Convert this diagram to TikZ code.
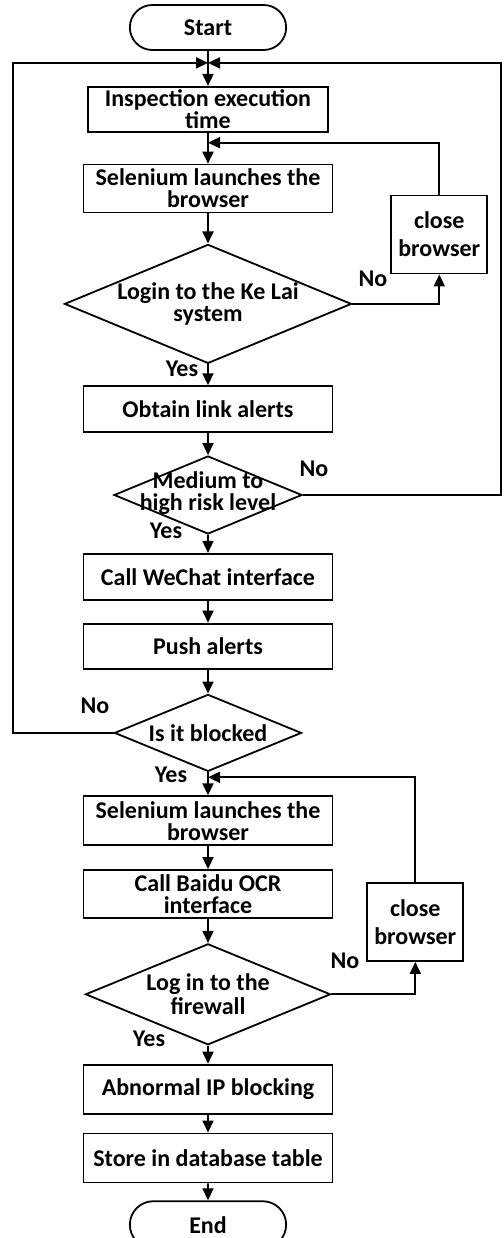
\documentclass[tikz,border=0pt]{standalone}
\usepackage{fontspec}
\setmainfont{Carlito}
\usepackage{tikz}
\usetikzlibrary{shapes.geometric, shapes.misc, arrows.meta, positioning}
\lineskiplimit=-50pt
\tikzset{
  termbox/.style={rounded rectangle, draw, line width=1.8pt, minimum width=163pt, minimum height=45pt, font=\bfseries\fontsize{24}{18}\selectfont},
  procbox/.style={rectangle, draw, line width=1.8pt, minimum width=249pt, minimum height=47pt, inner sep=0pt, align=center, font=\bfseries\fontsize{24}{#1}\selectfont},
  procbox/.default=22,
  closebox/.style={rectangle, draw, line width=1.8pt, minimum width=96pt, minimum height=78pt, inner sep=0pt, align=center, font=\bfseries\fontsize{24}{28}\selectfont},
  decision/.style={diamond, draw, line width=1.8pt, inner sep=0pt},
  dtext/.style={align=center, inner sep=0pt, font=\bfseries\fontsize{24}{#1}\selectfont},
  dtext/.default=22,
  lbl/.style={anchor=base, inner sep=0pt, font=\bfseries\fontsize{24}{24}\selectfont},
  arrow/.style={->, >={Triangle[length=12pt, width=11pt]}, line width=1.8pt}
}
\begin{document}
\begin{tikzpicture}[x=1pt, y=-1pt]
  \useasboundingbox (0,0) rectangle (503,1238);

  \node[termbox] (start) at (208,27.5) {Start};
  \coordinate[below=12pt of start] (join);
  \node[procbox, minimum width=240pt, minimum height=45pt, below=35pt of start] (inspect) {Inspection execution\\time};
  \coordinate[below=10pt of inspect] (merge1);
  \node[procbox, minimum height=48pt, below=31pt of inspect] (launch1) {Selenium launches the\\browser};
  \node[closebox, right=57pt of launch1, yshift=-46pt] (close1) {close\\browser};
  \node[decision, minimum width=287pt, minimum height=119pt, below=30pt of launch1] (login) {};
  \node[dtext] (logintxt) at (login) {Login to the Ke Lai\\system};
  \node[procbox, minimum height=46pt, below=21pt of login] (obtain) {Obtain link alerts};
  \node[decision, minimum width=188pt, minimum height=78pt, below=22pt of obtain] (risk) {};
  \node[dtext, yshift=2pt] (risktxt) at (risk) {Medium to\\high risk level};
  \node[procbox, minimum height=46pt, below=18pt of risk] (wechat) {Call WeChat interface};
  \node[procbox, minimum height=45pt, below=22pt of wechat] (push) {Push alerts};
  \node[decision, minimum width=187pt, minimum height=77pt, below=24pt of push] (blocked) {};
  \node[dtext] (blockedtxt) at (blocked) {Is it blocked};
  \coordinate[below=5pt of blocked] (merge2);
  \node[procbox, minimum height=49pt, below=23pt of blocked] (launch2) {Selenium launches the\\browser};
  \node[procbox, minimum height=48pt, below=23pt of launch2] (ocr) {Call Baidu OCR\\interface};
  \node[closebox, right=33pt of ocr, yshift=-28pt] (close2) {close\\browser};
  \node[decision, minimum width=245pt, minimum height=101pt, below=24pt of ocr] (fw) {};
  \node[dtext=24] (fwtxt) at (fw) {Log in to the\\firewall};
  \node[procbox, minimum height=49pt, below=18pt of fw] (abnormal) {Abnormal IP blocking};
  \node[procbox, minimum height=49pt, below=18pt of abnormal] (store) {Store in database table};
  \node[termbox, minimum height=47pt, below=17pt of store] (stop) {End};

  % main flow
  \draw[arrow] (start) -- (inspect);
  \draw[arrow] (inspect) -- (launch1);
  \draw[arrow] (launch1) -- (login);
  \draw[arrow] (login) -- (obtain);
  \draw[arrow] (obtain) -- (risk);
  \draw[arrow] (risk) -- (wechat);
  \draw[arrow] (wechat) -- (push);
  \draw[arrow] (push) -- (blocked);
  \draw[arrow] (blocked) -- (launch2);
  \draw[arrow] (launch2) -- (ocr);
  \draw[arrow] (ocr) -- (fw);
  \draw[arrow] (fw) -- (abnormal);
  \draw[arrow] (abnormal) -- (store);
  \draw[arrow] (store) -- (stop);

  % loops back
  \draw[arrow] (login.east) -| (close1.south);
  \draw[arrow] (close1.north) |- (merge1);
  \draw[arrow] (fw.east) -| (close2.south);
  \draw[arrow] (close2.north) |- (merge2);
  \draw[arrow] (blocked.west) -- ++(-101,0) |- (join);
  \draw[arrow] (risk.east) -- ++(198,0) |- (join);

  % branch labels
  \node[lbl] (no1) at (373,287) {No};
  \node[lbl] (yes1) at (182,376) {Yes};
  \node[lbl] (no2) at (314,476) {No};
  \node[lbl] (yes2) at (166,538) {Yes};
  \node[lbl] (no3) at (95,713) {No};
  \node[lbl] (yes3) at (171,782) {Yes};
  \node[lbl] (no4) at (345,968) {No};
  \node[lbl] (yes4) at (149,1046) {Yes};
\end{tikzpicture}
\end{document}
